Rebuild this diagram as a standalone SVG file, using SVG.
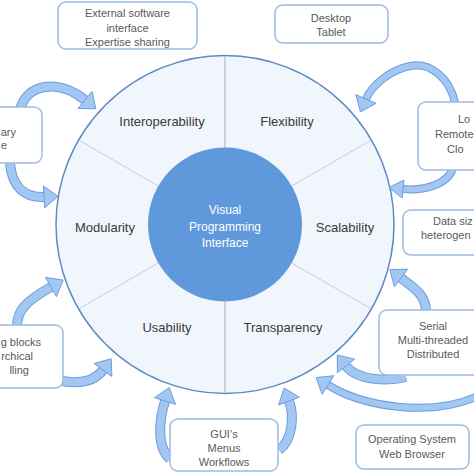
<svg xmlns="http://www.w3.org/2000/svg" width="474" height="474" viewBox="0 0 474 474">
<style>
.bg{fill:#ffffff}
.outer{fill:#F0F6FC;stroke:#5E89C3;stroke-width:1.5}
.inner{fill:#6098DC;stroke:none}
.vline{stroke:#9DB1CC;stroke-width:1}
.dline{stroke:#C9CED6;stroke-width:1}
.lbl{font-family:"Liberation Sans",Arial,sans-serif;font-size:13px;fill:#3A3A3A;text-anchor:middle}
.ctr{font-family:"Liberation Sans",Arial,sans-serif;font-size:12px;fill:#FFFFFF;text-anchor:middle}
.box{fill:#FFFFFF;stroke:#9CBCE4;stroke-width:1.5}
.bt{font-family:"Liberation Sans",Arial,sans-serif;font-size:11px;fill:#5A5A5A;text-anchor:middle}
.st{text-anchor:start}
.en{text-anchor:end}
.ao{fill:none;stroke:#6C9DDC;stroke-width:10}
.ai{fill:none;stroke:#A2C7F2;stroke-width:8}
.ah{fill:#A2C7F2;stroke:#6C9DDC;stroke-width:1;stroke-linejoin:round}
</style>
<rect class="bg" x="0" y="0" width="474" height="474"/>
<g id="wheel">
<circle class="outer" cx="225" cy="224.5" r="169"/>
<line class="vline" x1="225" y1="147.5" x2="225" y2="55.5"/>
<line class="vline" x1="225" y1="301.5" x2="225" y2="393.5"/>
<line class="dline" x1="291.7" y1="186" x2="371.4" y2="140"/>
<line class="dline" x1="291.7" y1="263" x2="371.4" y2="309"/>
<line class="dline" x1="158.3" y1="186" x2="78.6" y2="140"/>
<line class="dline" x1="158.3" y1="263" x2="78.6" y2="309"/>
</g>
<g id="center">
<circle class="inner" cx="225" cy="224.5" r="77"/>
<text class="ctr" x="225" y="214">Visual</text>
<text class="ctr" x="225" y="231">Programming</text>
<text class="ctr" x="225" y="247">Interface</text>
</g>
<g id="sector-interoperability"><text class="lbl" x="162" y="125.5">Interoperability</text></g>
<g id="sector-flexibility"><text class="lbl" x="287" y="125.5">Flexibility</text></g>
<g id="sector-modularity"><text class="lbl" x="105" y="231.5">Modularity</text></g>
<g id="sector-scalability"><text class="lbl" x="345" y="231.5">Scalability</text></g>
<g id="sector-usability"><text class="lbl" x="167" y="331.5">Usability</text></g>
<g id="sector-transparency"><text class="lbl" x="283" y="331.5">Transparency</text></g>
<g id="connectors">
<path class="ao" d="M20,110 C26,84 58,78 85,100"/>
<path class="ai" d="M20,110 C26,84 58,78 85,100"/>
<polygon class="ah" points="95.9,108.8 78,108.5 92,91.5"/>
<path class="ao" d="M10,163 C12,188 26,198 44,197"/>
<path class="ai" d="M10,163 C12,188 26,198 44,197"/>
<polygon class="ah" points="58,196.2 44.6,208 43.4,186"/>
<path class="ao" d="M17,326 C17,310 27,300.5 51,287"/>
<path class="ai" d="M17,326 C17,310 27,300.5 51,287"/>
<polygon class="ah" points="63.2,280.1 56.4,296.6 45.6,277.4"/>
<path class="ao" d="M62,381 C80,384 95,381 103,370"/>
<path class="ai" d="M62,381 C80,384 95,381 103,370"/>
<polygon class="ah" points="111.2,358.7 111.9,376.5 94.1,363.5"/>
<path class="ao" d="M170,459 C155,446 160.5,415.3 165,401"/>
<path class="ai" d="M170,459 C155,446 160.5,415.3 165,401"/>
<polygon class="ah" points="169.2,387.6 175.5,404.3 154.5,397.7"/>
<path class="ao" d="M279,450 C293,440 294.25,415 289,401"/>
<path class="ai" d="M279,450 C293,440 294.25,415 289,401"/>
<polygon class="ah" points="284.1,387.9 299.3,397.2 278.7,404.9"/>
<path class="ao" d="M406,377 C390,381 358.4,381.7 346,366"/>
<path class="ai" d="M406,377 C390,381 358.4,381.7 346,366"/>
<polygon class="ah" points="337.3,355 354.6,359.2 337.4,372.8"/>
<path class="ao" d="M478,396 C430,418 361.9,406.2 328,385" style="stroke-width:8"/>
<path class="ai" d="M478,396 C430,418 361.9,406.2 328,385" style="stroke-width:6"/>
<polygon class="ah" points="316.1,377.6 333.8,375.7 322.2,394.3"/>
<path class="ao" d="M426,311 C426,295 413,287 401,278"/>
<path class="ai" d="M426,311 C426,295 413,287 401,278"/>
<polygon class="ah" points="389.8,269.6 407.6,269.2 394.4,286.8"/>
<path class="ao" d="M453,168 C448,185 422.9,191 403,189" style="stroke-width:8"/>
<path class="ai" d="M453,168 C448,185 422.9,191 403,189" style="stroke-width:6"/>
<polygon class="ah" points="389,187.6 403.9,180 402.1,198"/>
<path class="ao" d="M455,103 C450,78 430,62 410,66 C390,70 371.85,85.2 366,99" style="stroke-width:8"/>
<path class="ai" d="M455,103 C450,78 430,62 410,66 C390,70 371.85,85.2 366,99" style="stroke-width:6"/>
<polygon class="ah" points="360.5,111.9 355.9,94.7 376.1,103.3"/>
</g>
<g id="box-external">
<rect class="box" x="58" y="2" width="139" height="47" rx="8"/>
<text class="bt" x="127.5" y="17">External software</text>
<text class="bt" x="127.5" y="31.5">interface</text>
<text class="bt" x="127.5" y="46">Expertise sharing</text>
</g>
<g id="box-desktop">
<rect class="box" x="275" y="5" width="113" height="38" rx="8"/>
<text class="bt" x="331" y="22">Desktop</text>
<text class="bt" x="331" y="36">Tablet</text>
</g>
<g id="box-local">
<rect class="box" x="418" y="102" width="120" height="68" rx="8"/>
<text class="bt st" x="458" y="123">Lo</text>
<text class="bt st" x="435" y="138">Remote</text>
<text class="bt st" x="447" y="153">Clo</text>
</g>
<g id="box-data">
<rect class="box" x="403" y="210" width="130" height="45" rx="8"/>
<text class="bt st" x="433" y="225">Data siz</text>
<text class="bt st" x="421" y="239">heterogen</text>
</g>
<g id="box-serial">
<rect class="box" x="379" y="310" width="120" height="65" rx="8"/>
<text class="bt" x="433" y="330">Serial</text>
<text class="bt" x="433" y="344">Multi-threaded</text>
<text class="bt" x="433" y="358">Distributed</text>
</g>
<g id="box-os">
<rect class="box" x="356" y="425" width="113" height="44" rx="8"/>
<text class="bt" x="412" y="443">Operating System</text>
<text class="bt" x="412" y="458">Web Browser</text>
</g>
<g id="box-gui">
<rect class="box" x="170" y="419" width="108" height="52" rx="8"/>
<text class="bt" x="224" y="438">GUI’s</text>
<text class="bt" x="224" y="452">Menus</text>
<text class="bt" x="224" y="466">Workflows</text>
</g>
<g id="box-library">
<rect class="box" x="-70" y="107" width="112" height="56" rx="8"/>
<text class="bt en" x="16" y="136">ary</text>
<text class="bt en" x="7" y="149">e</text>
</g>
<g id="box-building">
<rect class="box" x="-70" y="325" width="133" height="63" rx="8"/>
<text class="bt en" x="41" y="346">g blocks</text>
<text class="bt en" x="33" y="360">rchical</text>
<text class="bt en" x="29" y="374">lling</text>
</g>
</svg>
